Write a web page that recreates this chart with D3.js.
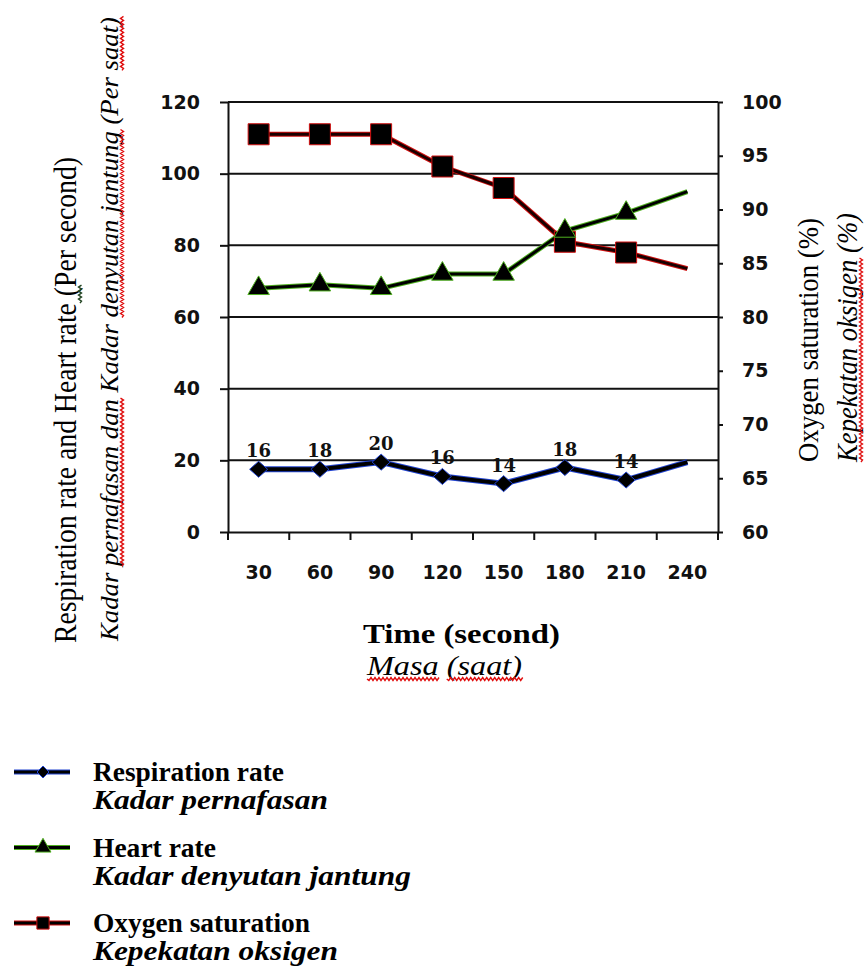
<!DOCTYPE html>
<html>
<head>
<meta charset="utf-8">
<script src="https://cdn.jsdelivr.net/npm/d3@7"></script>
<style>
  body { margin: 0; background: #fff; }
  svg { display: block; }
</style>
</head>
<body>
<div id="chart"></div>
<script>
// data
const categories = ["30", "60", "90", "120", "150", "180", "210", "240"];
const respiration = [17.5, 17.5, 19.5, 15.5, 13.5, 18, 14.5, 19.5];
const respirationLabels = ["16", "18", "20", "16", "14", "18", "14"];
const heartRate = [68, 69, 68, 72, 72, 84, 89, 95];
const oxygen = [97, 97, 97, 94, 92, 87, 86, 84.5];
const leftTicks = [0, 20, 40, 60, 80, 100, 120];
const rightTicks = [60, 65, 70, 75, 80, 85, 90, 95, 100];
const markedPoints = 7; // last point of each line has no marker

const legendNames = ["Respiration rate", "Heart rate", "Oxygen saturation"];
const legendNamesMalay = ["Kadar pernafasan", "Kadar denyutan jantung", "Kepekatan oksigen"];

const width = 866, height = 966;
const plot = { left: 228, right: 718, top: 102, bottom: 532 };

const svg = d3.select("#chart").append("svg")
  .attr("width", width)
  .attr("height", height);

const x = d3.scaleBand().domain(categories).range([plot.left, plot.right]);
const yL = d3.scaleLinear().domain([0, 120]).range([plot.bottom, plot.top]);
const yR = d3.scaleLinear().domain([60, 100]).range([plot.bottom, plot.top]);
const cx = c => x(c) + x.bandwidth() / 2;

// gridlines
svg.append("g").selectAll("line")
  .data(leftTicks.filter(d => d > 0))
  .enter().append("line")
  .attr("x1", plot.left).attr("x2", plot.right)
  .attr("y1", d => yL(d)).attr("y2", d => yL(d))
  .attr("stroke", "#111").attr("stroke-width", 2);

// left axis
const gL = svg.append("g")
  .attr("transform", `translate(${plot.left},0)`)
  .call(d3.axisLeft(yL).tickValues(leftTicks).tickSize(8).tickPadding(20).tickSizeOuter(0));
gL.selectAll("text")
  .attr("font-family", "DejaVu Sans").attr("font-weight", "bold")
  .attr("font-size", 19).attr("fill", "#111");

// right axis
const gR = svg.append("g")
  .attr("transform", `translate(${plot.right},0)`)
  .call(d3.axisRight(yR).tickValues(rightTicks).tickSize(5).tickPadding(19).tickSizeOuter(0));
gR.selectAll("text")
  .attr("font-family", "DejaVu Sans").attr("font-weight", "bold")
  .attr("font-size", 19).attr("fill", "#111");

// bottom axis: labels in band centres, ticks on band edges
const gB = svg.append("g")
  .attr("transform", `translate(0,${plot.bottom})`)
  .call(d3.axisBottom(x).tickSize(0).tickPadding(34).tickSizeOuter(0));
gB.selectAll("text")
  .attr("font-family", "DejaVu Sans").attr("font-weight", "bold")
  .attr("font-size", 19).attr("fill", "#111");
gB.append("g").selectAll("line")
  .data(categories.map(c => x(c)).concat([plot.right]))
  .enter().append("line")
  .attr("x1", d => d).attr("x2", d => d)
  .attr("y1", 0).attr("y2", 8)
  .attr("stroke", "#111").attr("stroke-width", 2);

svg.selectAll(".domain").attr("stroke", "#111").attr("stroke-width", 2);
svg.selectAll(".tick line").attr("stroke", "#111").attr("stroke-width", 2);

// lines
function drawSeries(values, yScale, fringe, core, wide, narrow) {
  const line = d3.line()
    .x((d, i) => cx(categories[i]))
    .y(d => yScale(d));
  svg.append("path").datum(values)
    .attr("d", line).attr("fill", "none")
    .attr("stroke", fringe).attr("stroke-width", wide).attr("stroke-linejoin", "round");
  svg.append("path").datum(values)
    .attr("d", line).attr("fill", "none")
    .attr("stroke", core).attr("stroke-width", narrow).attr("stroke-linejoin", "round");
}

const diamond = (w, h) => `M0,${-h}L${w},0L0,${h}L${-w},0Z`;

drawSeries(oxygen, yR, "#d01010", "#1a0000", 5, 3);
drawSeries(heartRate, yL, "#4fb020", "#000", 5, 3);
drawSeries(respiration, yL, "#2244d0", "#000", 6, 4);

// markers
svg.append("g").selectAll("path")
  .data(oxygen.slice(0, markedPoints))
  .enter().append("path")
  .attr("d", d3.symbol().type(d3.symbolSquare).size(441))
  .attr("transform", (d, i) => `translate(${cx(categories[i])},${yR(d)})`)
  .attr("fill", "#000").attr("stroke", "#d01010").attr("stroke-width", 1);

svg.append("g").selectAll("path")
  .data(heartRate.slice(0, markedPoints))
  .enter().append("path")
  .attr("d", d3.symbol().type(d3.symbolTriangle).size(200))
  .attr("transform", (d, i) => `translate(${cx(categories[i])},${yL(d)})`)
  .attr("fill", "#000").attr("stroke", "#4fb020").attr("stroke-width", 1);

svg.append("g").selectAll("path")
  .data(respiration.slice(0, markedPoints))
  .enter().append("path")
  .attr("d", diamond(9, 8))
  .attr("transform", (d, i) => `translate(${cx(categories[i])},${yL(d)})`)
  .attr("fill", "#000").attr("stroke", "#2244d0").attr("stroke-width", 1);

// data labels for respiration
svg.append("g").selectAll("text")
  .data(respirationLabels)
  .enter().append("text")
  .attr("x", (d, i) => cx(categories[i]))
  .attr("y", (d, i) => yL(respiration[i]) - 12)
  .attr("text-anchor", "middle")
  .attr("font-family", "DejaVu Serif").attr("font-weight", "bold")
  .attr("font-size", 18).attr("fill", "#111")
  .text(d => d);

// wavy spell-check underline under a part of a text
function wavy(g, textNode, word, color) {
  const s = textNode.textContent;
  const from = s.indexOf(word);
  if (from < 0) return;
  const to = from + word.length - 1;
  const x0 = textNode.getStartPositionOfChar(from).x;
  const x1 = textNode.getEndPositionOfChar(to).x;
  const y = textNode.getStartPositionOfChar(from).y + 4;
  let d = `M${x0},${y}`;
  for (let xx = x0, k = 0; xx < x1; xx += 2, k++) d += `L${xx + 2},${y + (k % 2 ? -1.5 : 1.5)}`;
  g.append("path").attr("d", d).attr("fill", "none")
    .attr("stroke", color).attr("stroke-width", 1.4);
}

function label(g, txt, px, py, opts) {
  const t = g.append("text")
    .attr("x", px).attr("y", py)
    .attr("font-family", "Liberation Serif")
    .attr("font-size", opts.size)
    .attr("font-weight", opts.bold ? "bold" : "normal")
    .attr("font-style", opts.italic ? "italic" : "normal")
    .attr("fill", "#000")
    .attr("textLength", opts.len)
    .attr("lengthAdjust", "spacingAndGlyphs")
    .text(txt);
  (opts.wavy || []).forEach(w => wavy(g, t.node(), w[0], w[1]));
  return t;
}

// left axis title
const gLT = svg.append("g").attr("transform", "translate(0,643) rotate(-90)");
label(gLT, "Respiration rate and Heart rate  (Per second)", 0, 76,
  { size: 32, len: 486, wavy: [["  ", "#224422"]] });
label(gLT, "Kadar pernafasan dan Kadar denyutan jantung (Per saat)", 2, 118,
  { size: 26, italic: true, len: 624,
    wavy: [["pernafasan dan", "#e01010"], ["denyutan jantung", "#e01010"], ["saat)", "#e01010"]] });

// right axis title
const gRT = svg.append("g").attr("transform", "translate(0,462) rotate(-90)");
label(gRT, "Oxygen saturation (%)", 0, 818, { size: 30, len: 244 });
label(gRT, "Kepekatan oksigen  (%)", 0, 857,
  { size: 30, italic: true, len: 249, wavy: [["Kepekatan oksigen", "#e01010"]] });

// x axis title
const gXT = svg.append("g");
label(gXT, "Time (second)", 363, 643, { size: 27, bold: true, len: 197 });
label(gXT, "Masa (saat)", 367, 675,
  { size: 27, italic: true, len: 155, wavy: [["Masa", "#e01010"], ["(saat)", "#e01010"]] });

// legend
const legendFringe = ["#2244d0", "#4fb020", "#d01010"];
const legendLens = [[191, 235], [123, 318], [217, 245]];
const legendSym = [
  diamond(6, 6),
  d3.symbol().type(d3.symbolTriangle).size(110)(),
  d3.symbol().type(d3.symbolSquare).size(150)()
];
legendNames.forEach((name, i) => {
  const y0 = 772 + i * 75.5;
  const g = svg.append("g");
  g.append("line").attr("x1", 14).attr("x2", 70).attr("y1", y0).attr("y2", y0)
    .attr("stroke", legendFringe[i]).attr("stroke-width", 5);
  g.append("line").attr("x1", 14).attr("x2", 70).attr("y1", y0).attr("y2", y0)
    .attr("stroke", "#000").attr("stroke-width", 3);
  g.append("path").attr("d", legendSym[i])
    .attr("transform", `translate(43,${y0})`)
    .attr("fill", "#000").attr("stroke", legendFringe[i]).attr("stroke-width", 1);
  label(g, name, 93, y0 + 9, { size: 27, bold: true, len: legendLens[i][0] });
  label(g, legendNamesMalay[i], 93, y0 + 37, { size: 27, bold: true, italic: true, len: legendLens[i][1] });
});
</script>
</body>
</html>
